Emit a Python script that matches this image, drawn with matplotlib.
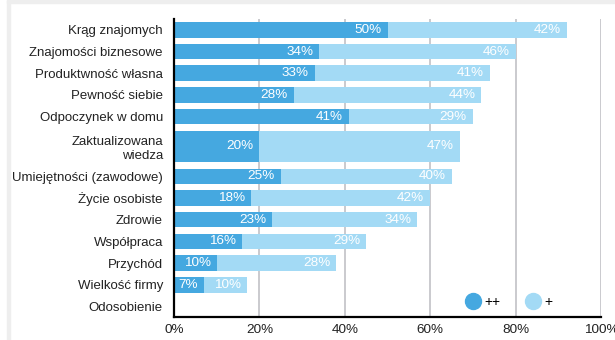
import numpy as np
import matplotlib
matplotlib.use('Agg')
import matplotlib.pyplot as plt
from matplotlib.lines import Line2D
from matplotlib.patches import Rectangle

plt.rcParams['font.family'] = ['Liberation Sans', 'DejaVu Sans']

# Survey data
categories = ['Krąg znajomych', 'Znajomości biznesowe', 'Produktwność własna',
              'Pewność siebie', 'Odpoczynek w domu', 'Zaktualizowana\nwiedza',
              'Umiejętności (zawodowe)', 'Życie osobiste', 'Zdrowie', 'Współpraca',
              'Przychód', 'Wielkość firmy', 'Odosobienie']
strong = [50, 34, 33, 28, 41, 20, 25, 18, 23, 16, 10, 7, 0]
weak = [42, 46, 41, 44, 29, 47, 40, 42, 34, 29, 28, 10, 0]
series_names = ['++', '+']

dark = '#45a8e0'
light = '#a3daf5'
grid_c = '#c6c6ca'

# row height grows with the number of label lines
nlines = np.array([c.count('\n') + 1 for c in categories])
row_h = 1 + 0.75 * (nlines - 1)
row_top = np.concatenate([[0], np.cumsum(row_h)[:-1]])
centers = row_top + row_h / 2
bar_h = row_h - 0.285

fig = plt.figure(figsize=(6.15, 3.4), dpi=100)
fig.patches.append(Rectangle((7 / 615, 0), 3 / 615, 1, transform=fig.transFigure,
                             color='#eeeeee', zorder=0))
fig.patches.append(Rectangle((7 / 615, 1 - 2.5 / 340), 1, 2.5 / 340,
                             transform=fig.transFigure, color='#eeeeee', zorder=0))
ax = fig.add_axes([174 / 615, 1 - 317.3 / 340, 427 / 615, 298.3 / 340])

ax.barh(centers, strong, height=bar_h, color=dark, zorder=2)
ax.barh(centers, weak, left=strong, height=bar_h, color=light, zorder=2)

for y, s, w in zip(centers, strong, weak):
    if s:
        ax.text(s - 1.4, y, f'{s}%', ha='right', va='center', color='white',
                fontsize=9.7, zorder=3)
    if w:
        ax.text(s + w - 1.4, y, f'{w}%', ha='right', va='center', color='white',
                fontsize=9.7, zorder=3)

ax.set_xlim(0, 100)
ax.set_ylim(row_h.sum(), 0)
ax.set_xticks([0, 20, 40, 60, 80, 100])
ax.set_xticklabels([f'{v}%' for v in [0, 20, 40, 60, 80, 100]])
ax.set_yticks(centers)
ax.set_yticklabels(categories)
ax.tick_params(axis='both', length=0, labelsize=9.7, labelcolor='#222222')
ax.tick_params(axis='y', pad=8, labelsize=9.5)
ax.tick_params(axis='x', pad=5)

for v in [20, 40, 60, 80, 100]:
    ax.axvline(v, color=grid_c, lw=1.3, zorder=1)

for side in ['top', 'right']:
    ax.spines[side].set_visible(False)
for side in ['left', 'bottom']:
    ax.spines[side].set_linewidth(1.6)
    ax.spines[side].set_color('black')
    ax.spines[side].set_zorder(4)

handles = [Line2D([], [], marker='o', ls='', color=dark, markersize=11.5),
           Line2D([], [], marker='o', ls='', color=light, markersize=11.5)]
ax.legend(handles, series_names, ncol=2, frameon=False, loc='center',
          bbox_to_anchor=(0.785, 0.052), fontsize=10, handletextpad=0.3,
          columnspacing=1.9, handlelength=1.0)

fig.savefig('out.png', dpi=100)
